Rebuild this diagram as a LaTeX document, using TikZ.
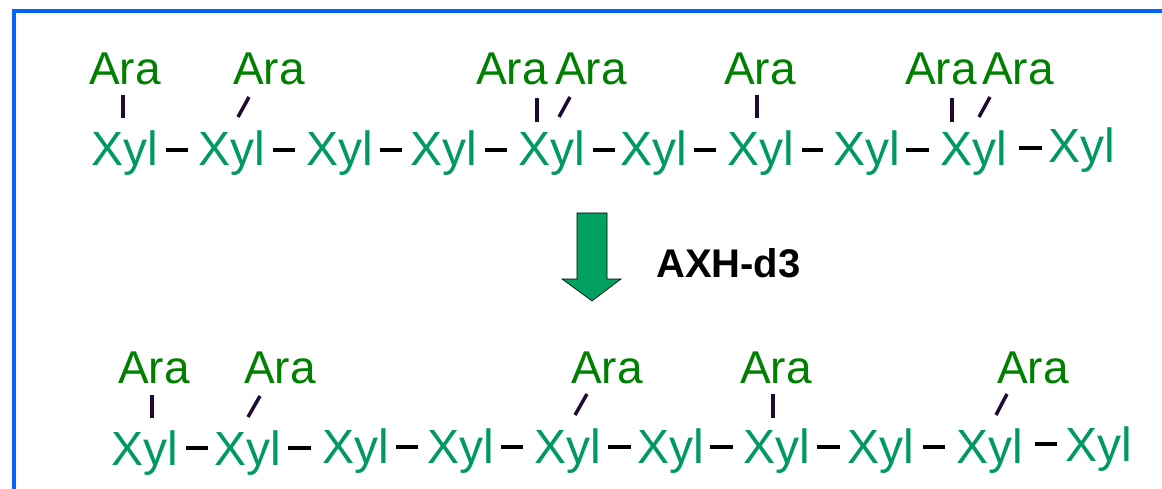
\documentclass[tikz,border=0pt]{standalone}
\usepackage{fontspec}
\setmainfont{Liberation Sans}
\definecolor{frameblue}{HTML}{0066FF}
\definecolor{xylgreen}{HTML}{009966}
\definecolor{aragreen}{HTML}{008000}
\definecolor{bondcol}{HTML}{1E0A32}
\definecolor{arrowfill}{HTML}{00A060}

% backbone link between two xylose units:
% node, node, gap left, gap right, height above left base, height above right base
\newcommand\chainlink[6]{\draw[link, shorten <=#3pt, shorten >=#4pt]
  ([yshift=#5pt]#1.base east) -- ([yshift=#6pt]#2.base west);}
% side-chain bond: xylose node, offset, arabinose node, offset
\newcommand\sidebond[6]{\draw[bond]
  ([shift={(#2pt,#3pt)}]#1.base west) -- ([shift={(#5pt,#6pt)}]#4.base west);}

\begin{document}
\begin{tikzpicture}[x=1pt,y=-1pt,
  xyl/.style={inner sep=0pt, anchor=base west, text=xylgreen,
              font=\fontsize{48}{48}\selectfont},
  ara/.style={inner sep=0pt, anchor=base west, text=aragreen,
              font=\fontsize{46}{46}\selectfont},
  link/.style={line width=4pt, black},
  bond/.style={line width=3.5pt, bondcol},
  enzyme/.style={inner sep=0pt, anchor=base west, text=black,
              font=\bfseries\fontsize{40}{40}\selectfont},
]
\useasboundingbox (0,0) rectangle (1162,489);

% frame
\draw[frameblue, line width=4pt] (14,11) rectangle (1190,520);

% ---------- substrate ----------
\foreach \n/\x in {1/91,2/198,3/306,4/410,5/518,6/620,7/727,8/833,9/940}
  \node[xyl] (xa\n) at (\x,166) {Xyl};
\node[xyl] (xa10) at (1048,163) {Xyl};

\node[ara] (aa1) at (89,85)  {Ara};
\node[ara] (aa2) at (233,85) {Ara};
\node[ara] (aa3) at (476,85) {Ara};
\node[ara] (aa4) at (555,85) {Ara};
\node[ara] (aa5) at (724,85) {Ara};
\node[ara] (aa6) at (905,85) {Ara};
\node[ara] (aa7) at (982,85) {Ara};

\chainlink{xa1}{xa2}{8.3}{10}{16}{16}
\chainlink{xa2}{xa3}{8.3}{11}{16}{16}
\chainlink{xa3}{xa4}{7.3}{8}{16}{16}
\chainlink{xa4}{xa5}{8.3}{11}{16}{16}
\chainlink{xa5}{xa6}{8.3}{5}{16}{16}
\chainlink{xa6}{xa7}{7.3}{11}{16}{16}
\chainlink{xa7}{xa8}{8.3}{10}{16}{16}
\chainlink{xa8}{xa9}{6.3}{11}{16}{16}
\chainlink{xa9}{xa10}{12.3}{6}{18}{15}

\sidebond{xa1}{32}{48}{aa1}{34}{-10}
\sidebond{xa2}{40}{49}{aa2}{16}{-12}
\sidebond{xa5}{19}{44}{aa3}{61}{-13}
\sidebond{xa5}{41}{49}{aa4}{15}{-12}
\sidebond{xa7}{30}{48}{aa5}{33}{-10}
\sidebond{xa9}{12}{44}{aa6}{47}{-13}
\sidebond{xa9}{39}{49}{aa7}{8}{-12}

% ---------- enzyme step ----------
\fill[arrowfill, draw=black, line width=0.6pt]
  (577,213) -- (607,213) -- (607,279) -- (621,279) -- (592,301)
  -- (562,279) -- (577,279) -- cycle;
\node[enzyme] (enz) at (656,277) {AXH-d3};

% ---------- product ----------
\node[xyl] (xb1) at (111,465) {Xyl};
\node[xyl] (xb2) at (214,465) {Xyl};
\foreach \n/\x in {3/322,4/427,5/534,6/637,7/743,8/847,9/956}
  \node[xyl] (xb\n) at (\x,463) {Xyl};
\node[xyl] (xb10) at (1065,461) {Xyl};

\node[ara] (ab1) at (118,383) {Ara};
\node[ara] (ab2) at (244,383) {Ara};
\node[ara] (ab3) at (571,383) {Ara};
\node[ara] (ab4) at (740,383) {Ara};
\node[ara] (ab5) at (997,383) {Ara};

\chainlink{xb1}{xb2}{8.3}{6}{17}{17}
\chainlink{xb2}{xb3}{7.3}{11}{17}{15}
\chainlink{xb3}{xb4}{7.3}{9}{16}{16}
\chainlink{xb4}{xb5}{7.3}{11}{16}{16}
\chainlink{xb5}{xb6}{7.3}{6}{16}{16}
\chainlink{xb6}{xb7}{6.3}{10}{16}{16}
\chainlink{xb7}{xb8}{7.3}{7}{16}{16}
\chainlink{xb8}{xb9}{9.3}{11}{16}{16}
\chainlink{xb9}{xb10}{12.3}{8}{19}{17}

\sidebond{xb1}{41}{47}{ab1}{34}{-12}
\sidebond{xb2}{34}{48}{ab2}{16}{-13}
\sidebond{xb5}{41}{48}{ab3}{16}{-11}
\sidebond{xb7}{30}{45}{ab4}{33}{-11}
\sidebond{xb9}{40}{48}{ab5}{10}{-11}
\end{tikzpicture}
\end{document}
